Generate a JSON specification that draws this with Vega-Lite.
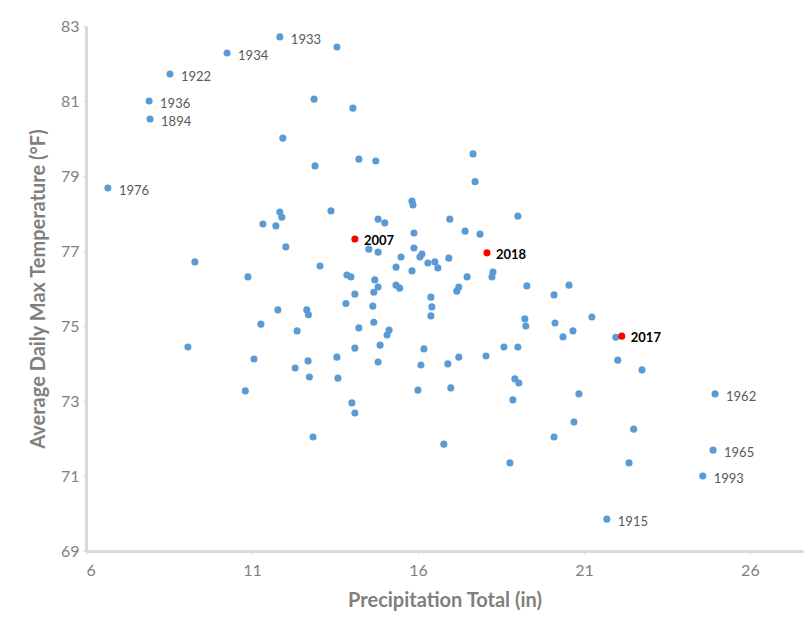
{
  "$schema": "https://vega.github.io/schema/vega-lite/v6.json",
  "autosize": {"type": "none"},
  "width": 717,
  "height": 525,
  "padding": {"left": 86, "top": 26, "right": 4, "bottom": 86},
  "background": "white",
  "config": {
    "view": {"stroke": null},
    "font": "Lato"
  },
  "data": {
    "values": [
      {"precip": 11.84, "temp": 82.71, "label": "1933", "group": "normal"},
      {"precip": 13.56, "temp": 82.44, "label": "", "group": "normal"},
      {"precip": 10.25, "temp": 82.28, "label": "1934", "group": "normal"},
      {"precip": 8.53, "temp": 81.72, "label": "1922", "group": "normal"},
      {"precip": 7.9, "temp": 81.0, "label": "1936", "group": "normal"},
      {"precip": 7.93, "temp": 80.52, "label": "1894", "group": "normal"},
      {"precip": 6.66, "temp": 78.68, "label": "1976", "group": "normal"},
      {"precip": 12.87, "temp": 81.05, "label": "", "group": "normal"},
      {"precip": 14.04, "temp": 80.81, "label": "", "group": "normal"},
      {"precip": 11.93, "temp": 80.01, "label": "", "group": "normal"},
      {"precip": 14.22, "temp": 79.45, "label": "", "group": "normal"},
      {"precip": 14.73, "temp": 79.4, "label": "", "group": "normal"},
      {"precip": 12.9, "temp": 79.27, "label": "", "group": "normal"},
      {"precip": 13.38, "temp": 78.07, "label": "", "group": "normal"},
      {"precip": 14.8, "temp": 77.85, "label": "", "group": "normal"},
      {"precip": 15.0, "temp": 77.75, "label": "", "group": "normal"},
      {"precip": 11.84, "temp": 78.04, "label": "", "group": "normal"},
      {"precip": 11.9, "temp": 77.9, "label": "", "group": "normal"},
      {"precip": 11.33, "temp": 77.72, "label": "", "group": "normal"},
      {"precip": 11.72, "temp": 77.67, "label": "", "group": "normal"},
      {"precip": 12.02, "temp": 77.11, "label": "", "group": "normal"},
      {"precip": 14.52, "temp": 77.05, "label": "", "group": "normal"},
      {"precip": 14.8, "temp": 76.97, "label": "", "group": "normal"},
      {"precip": 9.28, "temp": 76.71, "label": "", "group": "normal"},
      {"precip": 13.05, "temp": 76.6, "label": "", "group": "normal"},
      {"precip": 10.88, "temp": 76.31, "label": "", "group": "normal"},
      {"precip": 13.86, "temp": 76.36, "label": "", "group": "normal"},
      {"precip": 13.98, "temp": 76.31, "label": "", "group": "normal"},
      {"precip": 14.7, "temp": 76.23, "label": "", "group": "normal"},
      {"precip": 14.8, "temp": 76.04, "label": "", "group": "normal"},
      {"precip": 14.67, "temp": 75.9, "label": "", "group": "normal"},
      {"precip": 14.1, "temp": 75.85, "label": "", "group": "normal"},
      {"precip": 13.83, "temp": 75.6, "label": "", "group": "normal"},
      {"precip": 14.64, "temp": 75.53, "label": "", "group": "normal"},
      {"precip": 11.78, "temp": 75.43, "label": "", "group": "normal"},
      {"precip": 12.65, "temp": 75.43, "label": "", "group": "normal"},
      {"precip": 12.7, "temp": 75.3, "label": "", "group": "normal"},
      {"precip": 15.34, "temp": 76.57, "label": "", "group": "normal"},
      {"precip": 15.49, "temp": 76.84, "label": "", "group": "normal"},
      {"precip": 15.34, "temp": 76.09, "label": "", "group": "normal"},
      {"precip": 15.45, "temp": 76.01, "label": "", "group": "normal"},
      {"precip": 11.27, "temp": 75.05, "label": "", "group": "normal"},
      {"precip": 12.36, "temp": 74.87, "label": "", "group": "normal"},
      {"precip": 14.67, "temp": 75.1, "label": "", "group": "normal"},
      {"precip": 14.22, "temp": 74.95, "label": "", "group": "normal"},
      {"precip": 15.13, "temp": 74.89, "label": "", "group": "normal"},
      {"precip": 15.07, "temp": 74.76, "label": "", "group": "normal"},
      {"precip": 9.07, "temp": 74.44, "label": "", "group": "normal"},
      {"precip": 14.1, "temp": 74.41, "label": "", "group": "normal"},
      {"precip": 14.86, "temp": 74.49, "label": "", "group": "normal"},
      {"precip": 11.06, "temp": 74.12, "label": "", "group": "normal"},
      {"precip": 13.56, "temp": 74.17, "label": "", "group": "normal"},
      {"precip": 12.69, "temp": 74.07, "label": "", "group": "normal"},
      {"precip": 14.8, "temp": 74.04, "label": "", "group": "normal"},
      {"precip": 12.3, "temp": 73.88, "label": "", "group": "normal"},
      {"precip": 12.73, "temp": 73.64, "label": "", "group": "normal"},
      {"precip": 13.59, "temp": 73.61, "label": "", "group": "normal"},
      {"precip": 10.8, "temp": 73.27, "label": "", "group": "normal"},
      {"precip": 14.01, "temp": 72.95, "label": "", "group": "normal"},
      {"precip": 14.1, "temp": 72.68, "label": "", "group": "normal"},
      {"precip": 12.84, "temp": 72.04, "label": "", "group": "normal"},
      {"precip": 17.66, "temp": 79.59, "label": "", "group": "normal"},
      {"precip": 17.72, "temp": 78.85, "label": "", "group": "normal"},
      {"precip": 15.82, "temp": 78.33, "label": "", "group": "normal"},
      {"precip": 15.85, "temp": 78.23, "label": "", "group": "normal"},
      {"precip": 16.96, "temp": 77.85, "label": "", "group": "normal"},
      {"precip": 19.01, "temp": 77.93, "label": "", "group": "normal"},
      {"precip": 17.42, "temp": 77.53, "label": "", "group": "normal"},
      {"precip": 17.87, "temp": 77.45, "label": "", "group": "normal"},
      {"precip": 15.88, "temp": 77.48, "label": "", "group": "normal"},
      {"precip": 15.88, "temp": 77.08, "label": "", "group": "normal"},
      {"precip": 16.12, "temp": 76.92, "label": "", "group": "normal"},
      {"precip": 16.06, "temp": 76.84, "label": "", "group": "normal"},
      {"precip": 16.3, "temp": 76.68, "label": "", "group": "normal"},
      {"precip": 16.51, "temp": 76.71, "label": "", "group": "normal"},
      {"precip": 16.6, "temp": 76.55, "label": "", "group": "normal"},
      {"precip": 16.93, "temp": 76.81, "label": "", "group": "normal"},
      {"precip": 15.82, "temp": 76.47, "label": "", "group": "normal"},
      {"precip": 17.48, "temp": 76.31, "label": "", "group": "normal"},
      {"precip": 18.26, "temp": 76.44, "label": "", "group": "normal"},
      {"precip": 18.23, "temp": 76.31, "label": "", "group": "normal"},
      {"precip": 17.23, "temp": 76.04, "label": "", "group": "normal"},
      {"precip": 17.17, "temp": 75.93, "label": "", "group": "normal"},
      {"precip": 19.28, "temp": 76.07, "label": "", "group": "normal"},
      {"precip": 20.1, "temp": 75.83, "label": "", "group": "normal"},
      {"precip": 20.55, "temp": 76.09, "label": "", "group": "normal"},
      {"precip": 16.39, "temp": 75.77, "label": "", "group": "normal"},
      {"precip": 16.42, "temp": 75.51, "label": "", "group": "normal"},
      {"precip": 16.39, "temp": 75.27, "label": "", "group": "normal"},
      {"precip": 19.22, "temp": 75.19, "label": "", "group": "normal"},
      {"precip": 19.25, "temp": 75.0, "label": "", "group": "normal"},
      {"precip": 21.24, "temp": 75.24, "label": "", "group": "normal"},
      {"precip": 20.13, "temp": 75.08, "label": "", "group": "normal"},
      {"precip": 20.37, "temp": 74.71, "label": "", "group": "normal"},
      {"precip": 20.67, "temp": 74.87, "label": "", "group": "normal"},
      {"precip": 21.96, "temp": 74.7, "label": "", "group": "normal"},
      {"precip": 16.18, "temp": 74.39, "label": "", "group": "normal"},
      {"precip": 16.09, "temp": 73.96, "label": "", "group": "normal"},
      {"precip": 16.9, "temp": 73.99, "label": "", "group": "normal"},
      {"precip": 17.23, "temp": 74.17, "label": "", "group": "normal"},
      {"precip": 18.05, "temp": 74.2, "label": "", "group": "normal"},
      {"precip": 18.59, "temp": 74.44, "label": "", "group": "normal"},
      {"precip": 19.01, "temp": 74.44, "label": "", "group": "normal"},
      {"precip": 22.02, "temp": 74.09, "label": "", "group": "normal"},
      {"precip": 22.75, "temp": 73.83, "label": "", "group": "normal"},
      {"precip": 16.0, "temp": 73.29, "label": "", "group": "normal"},
      {"precip": 16.99, "temp": 73.35, "label": "", "group": "normal"},
      {"precip": 18.92, "temp": 73.59, "label": "", "group": "normal"},
      {"precip": 19.04, "temp": 73.48, "label": "", "group": "normal"},
      {"precip": 18.86, "temp": 73.03, "label": "", "group": "normal"},
      {"precip": 20.85, "temp": 73.19, "label": "", "group": "normal"},
      {"precip": 24.95, "temp": 73.19, "label": "1962", "group": "normal"},
      {"precip": 20.7, "temp": 72.44, "label": "", "group": "normal"},
      {"precip": 22.5, "temp": 72.25, "label": "", "group": "normal"},
      {"precip": 20.1, "temp": 72.04, "label": "", "group": "normal"},
      {"precip": 16.78, "temp": 71.85, "label": "", "group": "normal"},
      {"precip": 24.89, "temp": 71.69, "label": "1965", "group": "normal"},
      {"precip": 18.77, "temp": 71.35, "label": "", "group": "normal"},
      {"precip": 22.36, "temp": 71.35, "label": "", "group": "normal"},
      {"precip": 24.58, "temp": 71.0, "label": "1993", "group": "normal"},
      {"precip": 21.69, "temp": 69.85, "label": "1915", "group": "normal"},
      {"precip": 14.1, "temp": 77.32, "label": "2007", "group": "highlight"},
      {"precip": 18.08, "temp": 76.95, "label": "2018", "group": "highlight"},
      {"precip": 22.14, "temp": 74.73, "label": "2017", "group": "highlight"}
    ]
  },
  "encoding": {
    "x": {
      "field": "precip",
      "type": "quantitative",
      "scale": {"domain": [6, 27.6], "nice": false, "zero": false},
      "axis": {
        "title": "Precipitation Total (in)",
        "values": [6, 11, 16, 21, 26],
        "grid": false,
        "domainColor": "#d9d9d9",
        "domainWidth": 3,
        "tickColor": "#d9d9d9",
        "tickSize": 3,
        "labelColor": "#7f7f7f",
        "labelFontSize": 16,
        "labelPadding": 8,
        "labelFont": "Lato",
        "titleFont": "Lato",
        "titleFontSize": 20,
        "titleFontWeight": "bold",
        "titleColor": "#7f7f7f",
        "titlePadding": 12
      }
    },
    "y": {
      "field": "temp",
      "type": "quantitative",
      "scale": {"domain": [69, 83], "nice": false, "zero": false},
      "axis": {
        "title": "Average Daily Max Temperature (°F)",
        "values": [69, 71, 73, 75, 77, 79, 81, 83],
        "grid": false,
        "domainColor": "#d9d9d9",
        "domainWidth": 3,
        "tickColor": "#d9d9d9",
        "tickSize": 3,
        "labelColor": "#7f7f7f",
        "labelFontSize": 16,
        "labelPadding": 4,
        "labelFont": "Lato",
        "titleFont": "Lato",
        "titleFontSize": 20,
        "titleFontWeight": "bold",
        "titleColor": "#7f7f7f",
        "titlePadding": 12
      }
    }
  },
  "layer": [
    {
      "mark": {"type": "point", "filled": true, "opacity": 1, "size": 50},
      "encoding": {
        "color": {
          "field": "group",
          "type": "nominal",
          "scale": {"domain": ["normal", "highlight"], "range": ["#5b9bd5", "#ff0000"]},
          "legend": null
        }
      }
    },
    {
      "transform": [{"filter": "datum.group == 'normal' && datum.label != ''"}],
      "mark": {"type": "text", "align": "left", "baseline": "middle", "dx": 11, "dy": 3, "fontSize": 13, "color": "#595959", "font": "Lato"},
      "encoding": {"text": {"field": "label"}}
    },
    {
      "transform": [{"filter": "datum.group == 'highlight'"}],
      "mark": {"type": "text", "align": "left", "baseline": "middle", "dx": 9, "dy": 2, "fontSize": 13, "fontWeight": "bold", "color": "#000000", "font": "Lato"},
      "encoding": {"text": {"field": "label"}}
    }
  ]
}
